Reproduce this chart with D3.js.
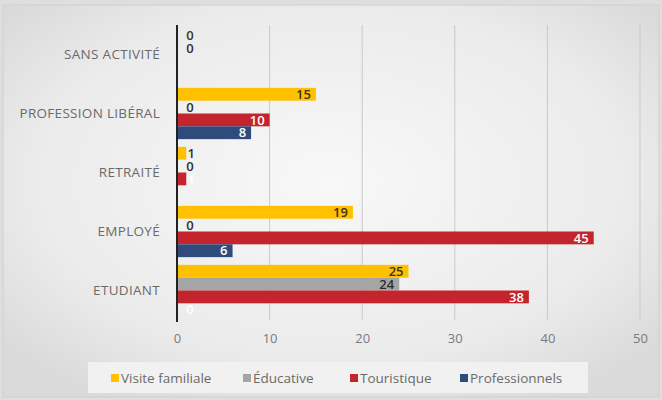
<!DOCTYPE html>
<html><head><meta charset="utf-8">
<script src="https://cdn.jsdelivr.net/npm/d3@7"></script>
<style>body{margin:0;background:#fff}svg{display:block}</style>
</head><body><svg id="c" width="662" height="400"></svg>
<script>
const categories = ["SANS ACTIVITÉ","PROFESSION LIBÉRAL","RETRAITÉ","EMPLOYÉ","ETUDIANT"];
const seriesNames = ["Visite familiale","Éducative","Touristique","Professionnels"];
const visiteFamiliale = [0,15,1,19,25];
const educative = [0,0,0,0,24];
const touristique = [null,10,1,45,38];
const professionnels = [null,8,null,6,0];
const xTicks = [0,10,20,30,40,50];
const seriesValues = [visiteFamiliale, educative, touristique, professionnels];
const colors = ["#FFC000","#A5A5A5","#C4242B","#2F4B7C"];
const labelColors = ["#3a3320","#2e2e2e","#ffffff","#ffffff"];

const svg = d3.select("#c");
const defs = svg.append("defs");
const rg = defs.append("radialGradient").attr("id","bg").attr("cx","50%").attr("cy","45%").attr("r","65%");
rg.append("stop").attr("offset","0%").attr("stop-color","#f8f8f8");
rg.append("stop").attr("offset","70%").attr("stop-color","#ebebeb");
rg.append("stop").attr("offset","100%").attr("stop-color","#dadada");
svg.append("rect").attr("width",662).attr("height",400).attr("fill","#dedede");
svg.append("rect").attr("x",3).attr("y",5).attr("width",656).attr("height",392).attr("fill","url(#bg)").attr("stroke","#cfcfcf");

const x = d3.scaleLinear().domain([0,50]).range([177,640]);
const y = d3.scaleBand().domain(categories).range([25,320]).paddingInner(0).paddingOuter(0);
const ys = d3.scaleBand().domain(d3.range(4)).range([0,y.bandwidth()]).paddingInner(0).paddingOuter(0.3);

// gridlines
svg.append("g").selectAll("line").data(xTicks.filter(d=>d>0)).join("line")
  .attr("x1",d=>x(d)).attr("x2",d=>x(d)).attr("y1",25).attr("y2",320)
  .attr("stroke","#c9c9c9").attr("stroke-width",1);

// x tick labels
const xAxis = d3.axisBottom(x).tickValues(xTicks).tickSize(0).tickPadding(0);
const gx = svg.append("g").attr("transform","translate(0,334)").call(xAxis);
gx.select(".domain").remove();
gx.selectAll("text").attr("font-family","'Open Sans', sans-serif").attr("font-size",13).attr("fill","#7a7a7a");

// bars
const rows = [];
categories.forEach((c,i)=>seriesValues.forEach((s,j)=>{ if(s[i]!==null) rows.push({c,j,v:s[i]}); }));
svg.append("g").selectAll("rect").data(rows.filter(d=>d.v>0)).join("rect")
  .attr("x",x(0)).attr("y",d=>y(d.c)+ys(d.j)).attr("width",d=>x(d.v)-x(0)).attr("height",ys.bandwidth())
  .attr("fill",d=>colors[d.j]);

// labels
svg.append("g").selectAll("text").data(rows).join("text")
  .attr("x",d=>{const w=x(d.v)-x(0); return w<22 ? Math.max(x(0)+13, x(d.v)+5) : x(d.v)-5;})
  .attr("text-anchor",d=>(x(d.v)-x(0))<22 ? "middle" : "end")
  .attr("y",d=>y(d.c)+ys(d.j)+ys.bandwidth()/2)
  .attr("dy","0.36em")
  .attr("font-family","'Open Sans', sans-serif").attr("font-size",13).attr("font-weight","600")
  .attr("fill",d=>labelColors[d.j])
  .text(d=>d.v);

// y axis line
svg.append("line").attr("x1",x(0)).attr("x2",x(0)).attr("y1",25).attr("y2",322).attr("stroke","#222").attr("stroke-width",2);

// category labels
const yAxis = d3.axisLeft(y).tickSize(0).tickPadding(17);
const gy = svg.append("g").attr("transform",`translate(${x(0)},0)`).call(yAxis);
gy.select(".domain").remove();
gy.selectAll("text").attr("font-family","'Open Sans', sans-serif").attr("font-size",13.5).attr("letter-spacing","0.3px").attr("fill","#6a6a6a");

// legend
svg.append("rect").attr("x",88).attr("y",362).attr("width",500).attr("height",31).attr("fill","#f1f1f1");
const legX = [111,243,350,460];
const lg = svg.append("g").selectAll("g").data(seriesNames).join("g").attr("transform",(d,i)=>`translate(${legX[i]},378)`);
lg.append("rect").attr("x",0).attr("y",-4).attr("width",8).attr("height",8).attr("fill",(d,i)=>colors[i]);
lg.append("text").attr("x",10).attr("dy","0.35em").attr("font-family","'Open Sans', sans-serif").attr("font-size",13.5).attr("fill","#6a6a6a").text(d=>d);
</script></body></html>
